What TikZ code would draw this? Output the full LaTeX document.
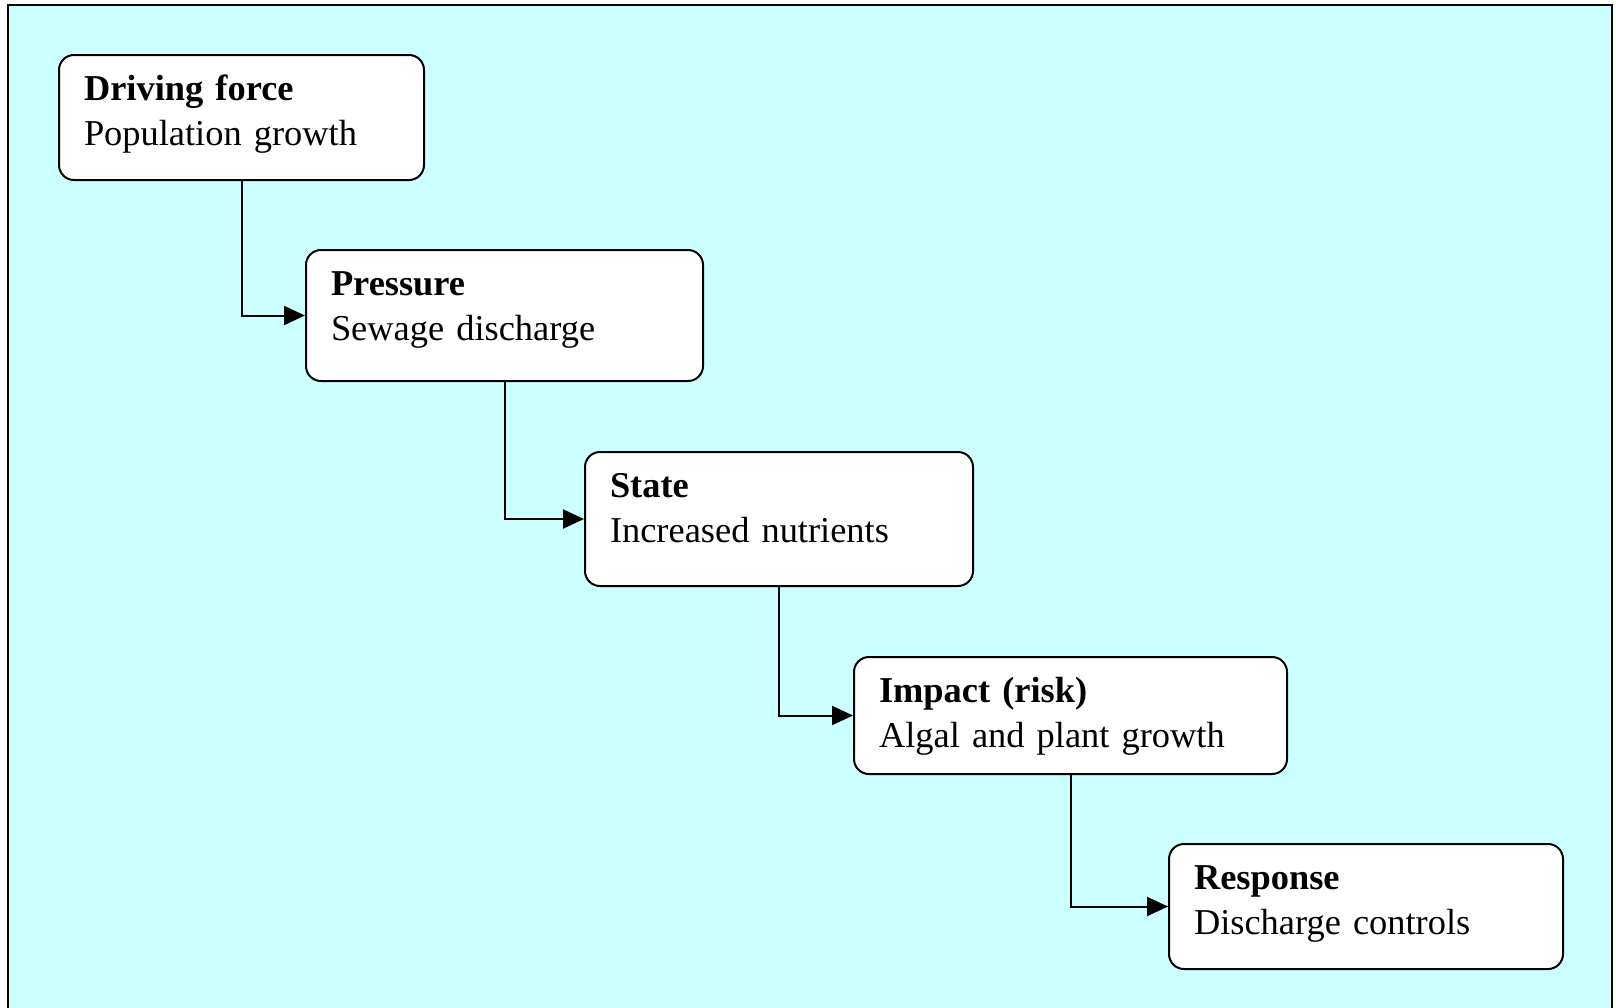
\documentclass[tikz,border=0pt]{standalone}
\usepackage{fontspec}
\setmainfont{Liberation Serif}
\usepackage{xcolor}
\usepackage{tikz}
\usetikzlibrary{arrows.meta,positioning}
\definecolor{bgcyan}{HTML}{CCFFFF}

\begin{document}
\begin{tikzpicture}[
    x=0.5pt, y=-0.5pt,
    stagebox/.style = {draw, fill=white, line width=1pt, rounded corners=7.5pt,
      anchor=north west, align=left, inner xsep=12.5pt, inner ysep=0pt,
      text height=22.5pt, font=\fontsize{18.2}{22.5}\selectfont},
    flow/.style = {->, line width=1pt},
    >={Triangle[length=10.5pt,width=9.5pt]}
  ]
  \useasboundingbox (0,0) rectangle (1616,1007);
  % Hintergrund
  \draw[fill=bgcyan, line width=1pt] (8,5) rectangle (1612,1030);

  % Kette der Stufen
  \node[stagebox, text width=157.5pt, text depth=40pt] (driving) at (58,54)
    {\textbf{Driving force}\\Population growth};
  \node[stagebox, text width=173.5pt, text depth=43pt] (pressure) at (305,249)
    {\textbf{Pressure}\\Sewage discharge};
  \node[stagebox, text width=169pt, text depth=44.5pt] (state) at (584,451)
    {\textbf{State}\\Increased nutrients};
  \node[stagebox, text width=191.5pt, text depth=36pt] (impact) at (853,656)
    {\textbf{Impact (risk)}\\Algal and plant growth};
  \node[stagebox, text width=172pt, text depth=40pt] (response) at (1168,843)
    {\textbf{Response}\\Discharge controls};

  % Verbindungen
  \draw[flow] (driving.south) |- (pressure.west);
  \draw[flow] (pressure.south) |- (state.west);
  \draw[flow] (state.south) |- (impact.west);
  \draw[flow] (impact.south) |- (response.west);
\end{tikzpicture}
\end{document}
